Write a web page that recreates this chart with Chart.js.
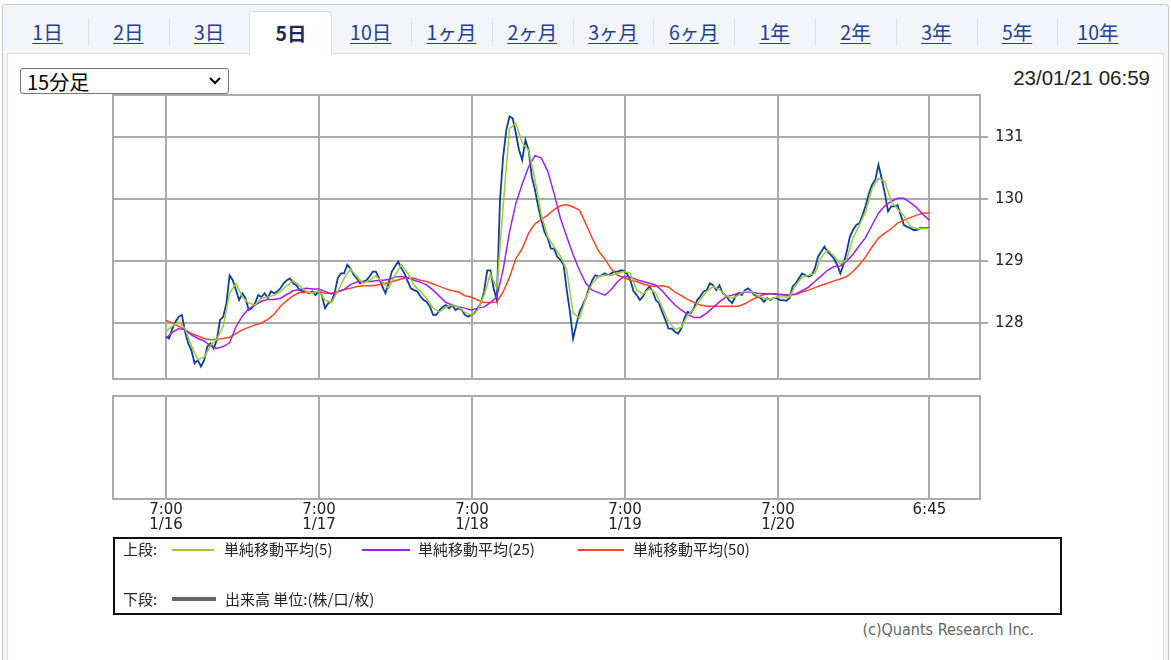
<!DOCTYPE html>
<html>
<head>
<meta charset="utf-8">
<script src="https://cdn.jsdelivr.net/npm/chart.js"></script>
<style>
body{margin:0;width:1171px;height:660px;overflow:hidden;position:relative;background:#fff;font-family:"Noto Sans CJK JP","Noto Sans",sans-serif}
#frame{position:absolute;left:2px;top:4px;width:1165px;height:700px;border:1px solid #c9c9c9;border-radius:3px;background:#f3f5fa}
#panel{position:absolute;left:7px;top:53px;width:1155px;height:700px;background:#fff;border-top:1px solid #dadde3;border-left:1px solid #dadde3;border-right:1px solid #dadde3}
.tab{position:absolute;top:11px;width:81px;height:42px;line-height:42px;text-align:center;font-size:19.5px;color:#1d3f9e;text-decoration:underline;text-underline-offset:3px}
.sep{position:absolute;top:18px;width:1px;height:28px;background:#dcdfe5}
.tab.on{background:#fff;color:#1b2a5a;font-weight:bold;text-decoration:none;border:1px solid #dadde3;border-bottom:none;border-radius:4px 4px 0 0;height:43px;z-index:2}
#sel{position:absolute;left:20px;top:68px;width:209px;height:26px;border:1px solid #767676;border-radius:3px;font-size:20px;line-height:25px;padding-left:6px;box-sizing:border-box;color:#000}
#sel svg{position:absolute;right:7px;top:8px}
#stamp{position:absolute;right:21px;top:66px;font-size:20.5px;color:#222;font-family:"Liberation Sans",Arial,sans-serif}
.box{position:absolute}
#legend{position:absolute;left:113px;top:537px;width:945px;height:74px;border:2px solid #111;font-size:15px;color:#222}
.lg{position:absolute;white-space:nowrap}
.ln{position:absolute;height:2px}
#copy{position:absolute;right:137px;top:620px;font-size:16px;color:#666;font-family:"DejaVu Sans Condensed","Liberation Sans Narrow","Liberation Sans",sans-serif}
</style>
</head>
<body>
<div id="frame"></div>
<div id="panel"></div>
<div id="tabs"></div>
<div id="sel">15分足<svg width="12" height="8" viewBox="0 0 12 8"><path d="M1 1 L6 6 L11 1" fill="none" stroke="#000" stroke-width="2"/></svg></div>
<div id="stamp">23/01/21 06:59</div>
<div class="box" style="left:111px;top:93px;width:921px;height:288px"><canvas id="upper"></canvas></div>
<div class="box" style="left:111px;top:394px;width:921px;height:145px"><canvas id="lower"></canvas></div>
<div id="legend">
  <span class="lg" style="left:8px;top:-1px">上段:</span>
  <span class="ln" style="left:57px;top:10px;width:42px;background:#9acd32"></span>
  <span class="lg" style="left:109px;top:-1px">単純移動平均(5)</span>
  <span class="ln" style="left:247px;top:10px;width:48px;background:#a020f0"></span>
  <span class="lg" style="left:303px;top:-1px">単純移動平均(25)</span>
  <span class="ln" style="left:463px;top:10px;width:46px;background:#ff4422"></span>
  <span class="lg" style="left:518px;top:-1px">単純移動平均(50)</span>
  <span class="lg" style="left:8px;top:49px">下段:</span>
  <span class="ln" style="left:57px;top:58px;width:44px;height:4px;background:#666"></span>
  <span class="lg" style="left:110px;top:49px">出来高 単位:(株/口/枚)</span>
</div>
<div id="copy">(c)Quants Research Inc.</div>
<script>
// period tabs
const tabNames = ["1日","2日","3日","5日","10日","1ヶ月","2ヶ月","3ヶ月","6ヶ月","1年","2年","3年","5年","10年"];
const activeTab = "5日";

// 15-minute chart, hours counted from 1/16 7:00, last bar 1/21 6:45
const lastHour = 119.75;
const gridHours = [0, 24, 48, 72, 96, 119.75];
const timeLabels = ["7:00","7:00","7:00","7:00","7:00","6:45"];
const dateLabels = ["1/16","1/17","1/18","1/19","1/20",""];
const priceTicks = [128, 129, 130, 131];

// close price, every 30 minutes
const priceDay1 = [127.78,127.75,127.91,128.02,128.10,128.13,127.86,127.67,127.56,127.35,127.40,127.30,127.40,127.62,127.67,127.59,127.73,128.05,128.10,128.32,128.77,128.69,128.53,128.37,128.48,128.40,128.21,128.24,128.32,128.45,128.42,128.48,128.40,128.51,128.48,128.51,128.56,128.64,128.69,128.72,128.64,128.61,128.53,128.51,128.51,128.48,128.51,128.45];
const priceDay2 = [128.51,128.45,128.24,128.32,128.34,128.48,128.72,128.80,128.80,128.94,128.88,128.78,128.72,128.64,128.67,128.69,128.75,128.83,128.83,128.72,128.59,128.48,128.64,128.83,128.91,128.99,128.88,128.80,128.67,128.56,128.53,128.51,128.43,128.37,128.34,128.26,128.13,128.13,128.21,128.26,128.29,128.24,128.29,128.21,128.24,128.21,128.13,128.10];
const priceDay3 = [128.13,128.16,128.24,128.32,128.51,128.85,128.85,128.56,128.37,129.98,130.68,131.11,131.33,131.30,131.06,130.79,130.63,130.95,130.79,130.36,130.15,129.88,129.66,129.47,129.37,129.20,129.20,129.07,129.02,128.94,128.53,128.18,127.75,127.97,128.18,128.29,128.40,128.56,128.69,128.77,128.75,128.77,128.80,128.77,128.80,128.83,128.83,128.85];
const priceDay4 = [128.84,128.79,128.69,128.51,128.45,128.37,128.43,128.53,128.59,128.51,128.37,128.32,128.18,128.05,127.91,127.91,127.86,127.83,127.91,128.08,128.18,128.16,128.24,128.37,128.43,128.51,128.53,128.64,128.61,128.53,128.61,128.48,128.45,128.37,128.32,128.43,128.48,128.45,128.53,128.56,128.51,128.45,128.43,128.40,128.34,128.40,128.37,128.40];
const priceDay5 = [128.40,128.37,128.37,128.36,128.40,128.59,128.64,128.72,128.80,128.77,128.75,128.77,128.88,129.07,129.15,129.23,129.15,129.10,129.04,128.94,128.80,128.94,129.15,129.39,129.50,129.58,129.61,129.74,129.90,130.09,130.23,130.31,130.55,130.33,130.09,129.80,129.88,129.88,129.90,129.74,129.58,129.55,129.53,129.50,129.50,129.53,129.53,129.53,129.54];

// moving averages, hourly
const ma5 = [127.86,127.95,128.02,127.91,127.63,127.41,127.45,127.64,127.74,127.95,128.48,128.64,128.42,128.32,128.29,128.40,128.42,128.45,128.51,128.60,128.68,128.60,128.51,128.48,
  128.51,128.37,128.33,128.51,128.72,128.87,128.75,128.64,128.69,128.76,128.66,128.56,128.77,128.94,128.80,128.61,128.51,128.39,128.24,128.18,128.26,128.29,128.25,128.17,
  128.13,128.21,128.45,128.79,128.56,129.88,131.14,131.22,130.90,130.79,130.31,129.74,129.39,129.23,129.08,128.85,128.16,128.08,128.40,128.64,128.75,128.77,128.77,128.80,
  128.83,128.80,128.53,128.47,128.55,128.48,128.25,128.02,127.90,127.93,128.13,128.22,128.38,128.51,128.59,128.54,128.44,128.40,128.45,128.51,128.51,128.44,128.40,128.38,
  128.42,128.42,128.42,128.61,128.74,128.77,128.80,129.06,129.18,129.08,128.95,129.02,129.37,129.58,129.80,130.17,130.33,130.28,129.96,129.84,129.73,129.56,129.52,129.52,129.53];
const ma25 = [127.75,127.85,127.91,127.89,127.81,127.75,127.71,127.63,127.59,127.62,127.68,127.94,128.11,128.23,128.29,128.35,128.38,128.38,128.40,128.46,128.52,128.54,128.56,128.55,
  128.55,128.51,128.47,128.50,128.54,128.62,128.66,128.67,128.67,128.68,128.69,128.70,128.74,128.75,128.73,128.69,128.66,128.61,128.53,128.43,128.33,128.29,128.26,128.24,
  128.21,128.24,128.26,128.33,128.42,128.86,129.47,129.93,130.24,130.52,130.70,130.66,130.45,130.09,129.69,129.39,129.10,128.85,128.64,128.53,128.49,128.45,128.54,128.67,
  128.75,128.74,128.70,128.67,128.64,128.61,128.52,128.40,128.29,128.21,128.14,128.09,128.09,128.16,128.25,128.34,128.42,128.45,128.48,128.50,128.50,128.48,128.47,128.47,
  128.46,128.45,128.45,128.47,128.52,128.58,128.67,128.76,128.85,128.91,128.92,129.00,129.11,129.25,129.38,129.58,129.77,129.89,129.96,130.01,130.01,129.94,129.86,129.75,129.66];
const ma50 = [128.04,128.00,127.95,127.89,127.83,127.79,127.75,127.73,127.74,127.75,127.77,127.83,127.89,127.93,127.97,128.00,128.06,128.14,128.27,128.36,128.44,128.49,128.49,128.49,
  128.51,128.48,128.48,128.51,128.54,128.56,128.59,128.60,128.60,128.61,128.63,128.65,128.68,128.71,128.73,128.72,128.69,128.67,128.63,128.59,128.55,128.52,128.50,128.44,
  128.42,128.37,128.33,128.33,128.34,128.50,128.74,129.04,129.20,129.45,129.60,129.67,129.74,129.83,129.89,129.91,129.87,129.82,129.60,129.37,129.16,129.03,128.87,128.77,
  128.73,128.69,128.67,128.63,128.60,128.59,128.60,128.58,128.50,128.44,128.38,128.33,128.29,128.27,128.27,128.27,128.27,128.27,128.27,128.31,128.37,128.42,128.46,128.47,
  128.47,128.46,128.45,128.46,128.50,128.53,128.57,128.61,128.64,128.68,128.71,128.75,128.83,128.94,129.07,129.23,129.37,129.45,129.52,129.61,129.66,129.70,129.74,129.77,129.78];

// tabs
const tabsEl = document.getElementById('tabs');
tabNames.forEach((t, i) => {
  const d = document.createElement('div');
  d.className = 'tab' + (t === activeTab ? ' on' : '');
  d.style.left = (7 + i * 80.8) + 'px';
  d.textContent = t;
  tabsEl.appendChild(d);
  if (i > 0) {
    const s = document.createElement('div');
    s.className = 'sep';
    s.style.left = (7 + i * 80.8) + 'px';
    tabsEl.appendChild(s);
  }
});

const closes = priceDay1.concat(priceDay2, priceDay3, priceDay4, priceDay5);
const toPoints = arr => arr.map((v, i) => ({ x: i * lastHour / (arr.length - 1), y: v }));

const X_MIN = -8.31, X_MAX = 127.69;
const GRID = '#ababab';

const frameBorder = {
  id: 'frameBorder',
  afterDraw(chart) {
    const a = chart.chartArea, c = chart.ctx;
    c.save();
    c.strokeStyle = GRID;
    c.lineWidth = 2;
    c.strokeRect(a.left, a.top, a.right - a.left, a.bottom - a.top);
    c.restore();
  }
};

const fixedTicks = list => axis => { axis.ticks = list.map(v => ({ value: v })); };
const fitY = axis => { axis.width = 52; axis.paddingTop = 0; axis.paddingBottom = 0; };

new Chart(document.getElementById('upper'), {
  type: 'line',
  data: {
    datasets: [
      { data: toPoints(ma5), borderColor: '#9acd32', borderWidth: 1.5 },
      { data: toPoints(ma25), borderColor: '#a020f0', borderWidth: 1.5 },
      { data: toPoints(ma50), borderColor: '#ff4422', borderWidth: 1.5 },
      { data: toPoints(closes), borderColor: '#0f3f9c', borderWidth: 1.8 }
    ]
  },
  options: {
    responsive: true,
    maintainAspectRatio: false,
    animation: false,
    layout: { padding: { left: 2, top: 2, bottom: 2, right: 0 } },
    elements: { point: { radius: 0 }, line: { tension: 0 } },
    plugins: { legend: { display: false }, tooltip: { enabled: false } },
    scales: {
      x: {
        type: 'linear', min: X_MIN, max: X_MAX,
        afterBuildTicks: fixedTicks(gridHours),
        afterFit: axis => { axis.height = 0; axis.paddingLeft = 0; axis.paddingRight = 0; },
        ticks: { display: false },
        grid: { color: GRID, lineWidth: 2, drawTicks: false },
        border: { display: false }
      },
      y: {
        position: 'right', min: 127.097, max: 131.677,
        afterBuildTicks: fixedTicks(priceTicks),
        afterFit: fitY,
        ticks: { color: '#222', padding: 7, font: { family: 'DejaVu Sans', size: 15 } },
        grid: { color: GRID, lineWidth: 2, tickLength: 8 },
        border: { display: false }
      }
    }
  },
  plugins: [frameBorder]
});

new Chart(document.getElementById('lower'), {
  type: 'line',
  data: { datasets: [{ data: [] }] },
  options: {
    responsive: true,
    maintainAspectRatio: false,
    animation: false,
    layout: { padding: { left: 2, top: 2, bottom: 0, right: 0 } },
    plugins: { legend: { display: false }, tooltip: { enabled: false } },
    scales: {
      x: {
        type: 'linear', min: X_MIN, max: X_MAX,
        afterBuildTicks: fixedTicks(gridHours),
        afterFit: axis => { axis.height = 40; axis.paddingLeft = 0; axis.paddingRight = 0; },
        ticks: {
          color: '#222', padding: 4, autoSkip: false, maxRotation: 0,
          font: { family: 'DejaVu Sans', size: 15, lineHeight: 1.0 },
          callback: (v, i) => [timeLabels[i], dateLabels[i]]
        },
        grid: { color: GRID, lineWidth: 2, drawTicks: false },
        border: { display: false }
      },
      y: {
        position: 'right', min: 0, max: 1,
        afterFit: fitY,
        ticks: { display: false },
        grid: { display: false },
        border: { display: false }
      }
    }
  },
  plugins: [frameBorder]
});
</script>
</body>
</html>
